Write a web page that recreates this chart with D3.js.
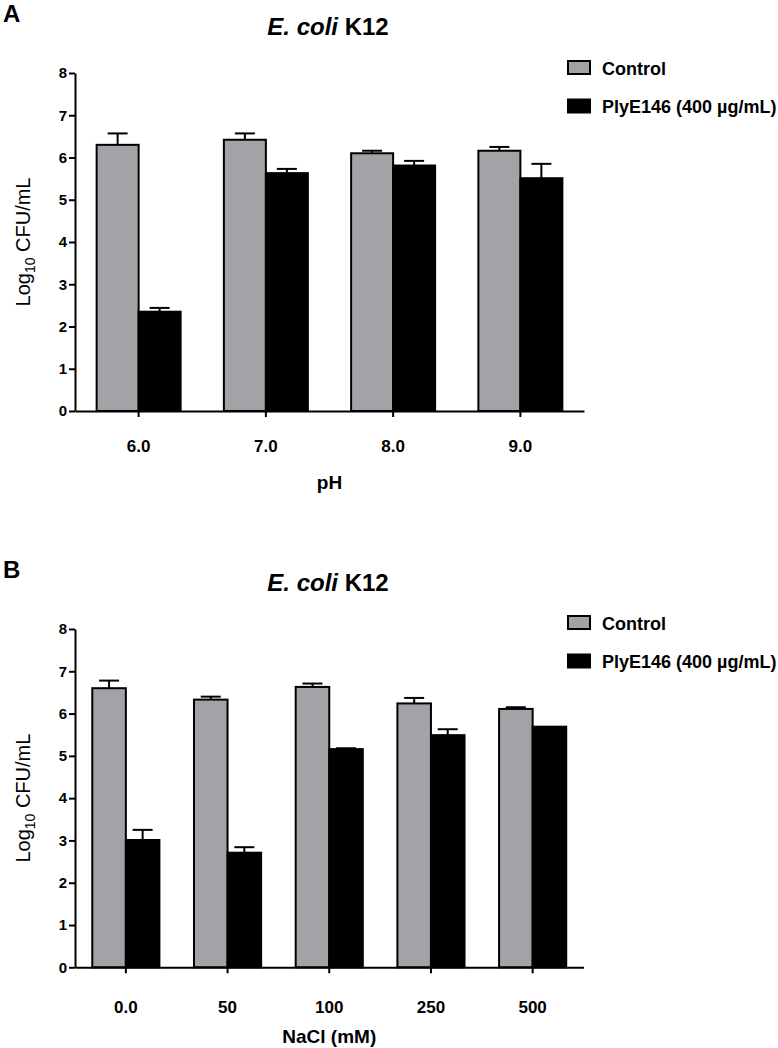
<!DOCTYPE html>
<html>
<head>
<meta charset="utf-8">
<script src="https://cdn.jsdelivr.net/npm/d3@7"></script>
<style>
  html, body { margin: 0; padding: 0; background: #fff; }
  svg { display: block; }
  text { font-family: "Liberation Sans", Arial, Helvetica, sans-serif; fill: #000; }
</style>
</head>
<body>
<svg id="chart" width="778" height="1048"></svg>
<script>
// ---------- Data ----------
const seriesNames = ["Control", "PlyE146 (400 µg/mL)"];
const seriesColors = ["#a3a3a7", "#000000"];
const yTicks = [0, 1, 2, 3, 4, 5, 6, 7, 8];

// Panel A: pH
const phCategories = ["6.0", "7.0", "8.0", "9.0"];
const phControl = [6.30, 6.42, 6.10, 6.16];
const phControlErr = [0.27, 0.15, 0.06, 0.09];
const phPly = [2.35, 5.63, 5.81, 5.51];
const phPlyErr = [0.09, 0.10, 0.11, 0.34];

// Panel B: NaCl
const naclCategories = ["0.0", "50", "100", "250", "500"];
const naclControl = [6.60, 6.33, 6.63, 6.24, 6.11];
const naclControlErr = [0.18, 0.07, 0.08, 0.13, 0.04];
const naclPly = [3.01, 2.71, 5.16, 5.49, 5.69];
const naclPlyErr = [0.24, 0.13, 0.02, 0.14, 0.00];

const svg = d3.select("#chart");
const FONT = "'Liberation Sans', Arial, sans-serif";

function drawPanel(opt) {
  const g = svg.append("g");
  const x0 = d3.scaleBand().domain(opt.categories).range([opt.left, opt.right])
    .paddingInner(0.34).paddingOuter(0.17);
  const x1 = d3.scaleBand().domain(seriesNames).range([0, x0.bandwidth()]);
  const y = d3.scaleLinear().domain([0, 8]).range([opt.bottom, opt.top]);

  const rows = opt.categories.map((c, i) => ({
    cat: c,
    vals: [
      { s: seriesNames[0], v: opt.control[i], e: opt.controlErr[i], color: seriesColors[0] },
      { s: seriesNames[1], v: opt.ply[i], e: opt.plyErr[i], color: seriesColors[1] }
    ]
  }));

  const grp = g.selectAll("g.grp").data(rows).join("g")
    .attr("transform", d => `translate(${x0(d.cat)},0)`);

  grp.selectAll("g.err").data(d => d.vals).join("g").each(function(d) {
    const cx = x1(d.s) + x1.bandwidth() / 2;
    const sel = d3.select(this);
    if (d.e > 0) {
      sel.append("line").attr("x1", cx).attr("x2", cx)
        .attr("y1", y(d.v)).attr("y2", y(d.v + d.e))
        .attr("stroke", "#000").attr("stroke-width", 2);
      sel.append("line").attr("x1", cx - 10).attr("x2", cx + 10)
        .attr("y1", y(d.v + d.e)).attr("y2", y(d.v + d.e))
        .attr("stroke", "#000").attr("stroke-width", 2);
    }
  });

  grp.selectAll("rect").data(d => d.vals).join("rect")
    .attr("x", d => x1(d.s))
    .attr("width", x1.bandwidth())
    .attr("y", d => y(d.v))
    .attr("height", d => y(0) - y(d.v))
    .attr("fill", d => d.color)
    .attr("stroke", "#000")
    .attr("stroke-width", 2);

  // y axis
  const ya = g.append("g").attr("transform", `translate(${opt.left},0)`)
    .call(d3.axisLeft(y).tickValues(yTicks).tickFormat(d3.format("d")).tickSize(6).tickPadding(2).tickSizeOuter(0));
  ya.select(".domain").attr("stroke-width", 2);
  ya.selectAll(".tick line").attr("stroke-width", 2);
  ya.selectAll(".tick text").style("font-size", "15px").style("font-weight", "bold")
    .style("font-family", FONT);

  // x axis
  const xa = g.append("g").attr("transform", `translate(0,${opt.bottom})`)
    .call(d3.axisBottom(x0).tickSize(6).tickSizeOuter(0).tickPadding(opt.xPad));
  xa.select(".domain").attr("stroke-width", 2);
  xa.selectAll(".tick line").attr("stroke-width", 2);
  xa.selectAll(".tick text").style("font-size", "17px").style("font-weight", "bold")
    .style("font-family", FONT);

  // x title
  g.append("text").attr("x", (opt.left + opt.right) / 2).attr("y", opt.xTitleY)
    .attr("text-anchor", "middle").style("font-size", "19px").style("font-weight", "bold")
    .text(opt.xTitle);

  // y title
  const yt = g.append("text")
    .attr("transform", `translate(30,${(opt.top + opt.bottom) / 2}) rotate(-90)`)
    .attr("text-anchor", "middle").style("font-size", "20px");
  yt.append("tspan").text("Log");
  yt.append("tspan").attr("dy", 5).style("font-size", "14px").text("10");
  yt.append("tspan").attr("dy", -5).text(" CFU/mL");

  // chart title
  const t = g.append("text").attr("x", 328).attr("y", opt.titleY)
    .attr("text-anchor", "middle").style("font-size", "24px").style("font-weight", "bold");
  t.append("tspan").style("font-style", "italic").text("E. coli");
  t.append("tspan").text(" K12");

  // panel letter
  g.append("text").attr("x", 3).attr("y", opt.letterY)
    .style("font-size", "24px").style("font-weight", "bold").text(opt.letter);

  // legend
  const lg = g.append("g");
  seriesNames.forEach((s, i) => {
    lg.append("rect").attr("x", 568).attr("y", opt.legendY + i * 38.5)
      .attr("width", 22).attr("height", 13)
      .attr("fill", seriesColors[i]).attr("stroke", "#000").attr("stroke-width", 2);
    lg.append("text").attr("x", 602).attr("y", opt.legendY + i * 38.5 + 13.5)
      .style("font-size", "18px").style("font-weight", "bold").text(s);
  });
}

drawPanel({
  categories: phCategories, control: phControl, controlErr: phControlErr,
  ply: phPly, plyErr: phPlyErr,
  left: 75, right: 584, top: 73, bottom: 411,
  xPad: 23, xTitle: "pH", xTitleY: 489,
  titleY: 35, letter: "A", letterY: 22, legendY: 61
});

drawPanel({
  categories: naclCategories, control: naclControl, controlErr: naclControlErr,
  ply: naclPly, plyErr: naclPlyErr,
  left: 75, right: 583.5, top: 629, bottom: 967.3,
  xPad: 28, xTitle: "NaCl  (mM)", xTitleY: 1043,
  titleY: 591, letter: "B", letterY: 578, legendY: 616
});
</script>
</body>
</html>
